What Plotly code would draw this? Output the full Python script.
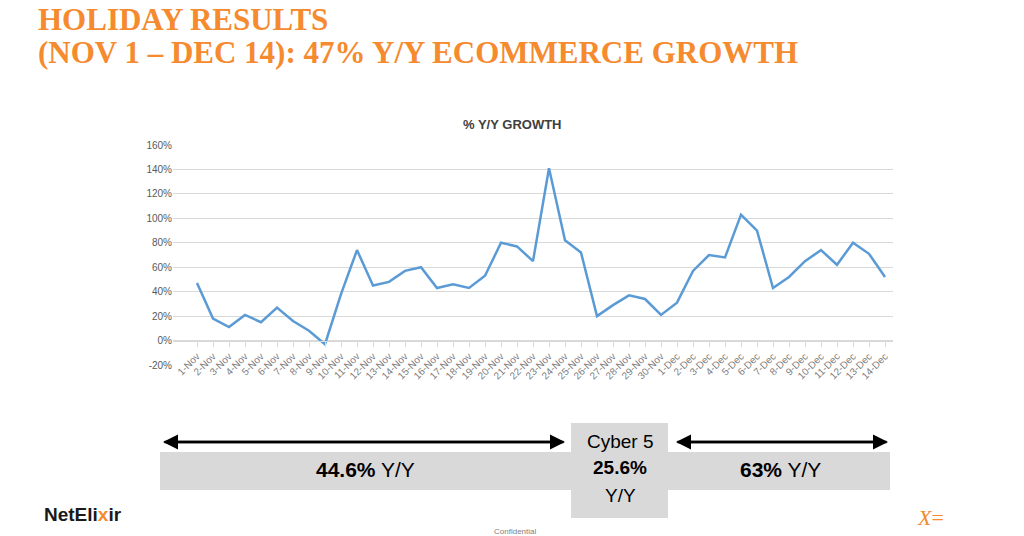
import plotly.graph_objects as go

days = [f"{d}-Nov" for d in range(1, 31)] + [f"{d}-Dec" for d in range(1, 15)]
growth = [47, 18, 11, 21, 15, 27, 16, 8, -3, 38, 74, 45, 48, 57, 60, 43, 46, 43, 53, 80,
          77, 65, 141, 82, 72, 20, 29, 37, 34, 21,
          31, 57, 70, 68, 103, 90, 43, 52, 65, 74, 62, 80, 71, 52]
y_ticks = [-20, 0, 20, 40, 60, 80, 100, 120, 140, 160]

OFF = 8
L, R, T, B = 173, 893, 145, 365
def px(x): return (x - L) / (R - L)
def py(y): return (B - y) / (B - T)

fig = go.Figure(go.Scatter(x=days, y=growth, mode="lines",
                           line=dict(color="#5B9BD5", width=2.5)))

fig.update_layout(
    width=1024, height=536, paper_bgcolor="white", plot_bgcolor="white",
    margin=dict(l=L - OFF, r=1024 - R + OFF, t=T - OFF, b=536 - B + OFF), showlegend=False,
    font=dict(family="Liberation Sans, Arial", color="#595959"),
    xaxis=dict(type="category", anchor="free", position=20/180, tickangle=-45,
               tickfont=dict(size=10, color="#7f7f7f"), showgrid=False,
               showline=True, linecolor="#d9d9d9", ticks="outside", ticklen=5,
               tickcolor="#d9d9d9", range=[-1.5, 43.5]),
    yaxis=dict(range=[-20, 160], tickvals=y_ticks, ticktext=[f"{v}%" for v in y_ticks],
               tickfont=dict(size=10, color="#595959"), gridcolor="#d9d9d9",
               zeroline=False, showline=False),
)

def txt(x, y, text, size, color="black", xanchor="center", family=None):
    f = dict(size=size, color=color)
    if family:
        f["family"] = family
    return dict(x=px(x), y=py(y), xref="paper", yref="paper", showarrow=False,
                xanchor=xanchor, yanchor="middle", text=text, font=f)

serif = "Liberation Serif, Times New Roman"
ann = [
    txt(36, 19, "<b>HOLIDAY RESULTS</b>", 31, "#F58A2E", "left", serif),
    txt(36, 52, "<b>(NOV 1 – DEC 14): 47% Y/Y ECOMMERCE GROWTH</b>", 31, "#F58A2E", "left", serif),
    txt(512, 124, "<b>% Y/Y GROWTH</b>", 13, "#404040"),
]
shapes = [
    dict(type="rect", xref="paper", yref="paper", x0=px(160), x1=px(890),
         y0=py(490), y1=py(452), fillcolor="#d9d9d9", line=dict(width=0), layer="below"),
    dict(type="rect", xref="paper", yref="paper", x0=px(571), x1=px(668),
         y0=py(518), y1=py(423), fillcolor="#d9d9d9", line=dict(width=0), layer="below"),
]
fig.update_layout(shapes=shapes)
for x0, x1 in [(163, 565), (565, 163), (676, 888), (888, 676)]:
    ann.append(dict(x=px(x1), y=py(442), ax=x0 - x1, ay=0, xref="paper", yref="paper",
                    axref="pixel", ayref="pixel", text="", showarrow=True,
                    arrowhead=2, arrowsize=1.2, arrowwidth=2.5, arrowcolor="black"))
ann += [
    txt(365, 469, "<b>44.6%</b> Y/Y", 21),
    txt(620, 441, "Cyber 5", 19),
    txt(620, 467, "<b>25.6%</b>", 19),
    txt(620, 495, "Y/Y", 19),
    txt(780, 469, "<b>63%</b> Y/Y", 21),
    txt(42, 514, "<b>NetEli<span style='color:#F58A2E'>x</span>ir</b>", 19, "#1a1a1a", "left"),
    txt(515, 531, "Confidential", 8, "#7f7f7f"),
    txt(930, 517, "<i>X</i>=", 22, "#F58A2E", family="Liberation Serif"),
]
fig.update_layout(annotations=ann)
fig.write_html("out.html")
